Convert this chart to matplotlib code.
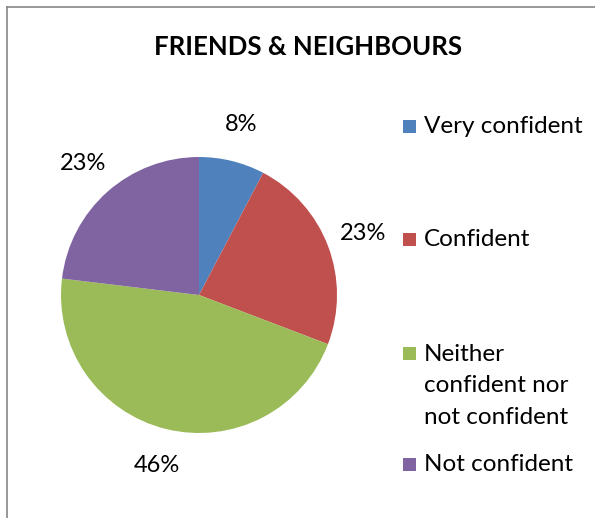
import matplotlib
matplotlib.use('Agg')
import matplotlib.pyplot as plt
from matplotlib.patches import Rectangle
from matplotlib.lines import Line2D

#survey answers for friends & neighbours (share of respondents, %)
labels = ['Very confident', 'Confident', 'Neither\nconfident nor\nnot confident', 'Not confident']
values = [7.7, 23.1, 46.1, 23.1]
colors = ['#4F81BD', '#C0504D', '#9BBB59', '#8064A2']

plt.rcParams['font.family'] = ['Lato', 'DejaVu Sans']

W, H = 595, 518
fig = plt.figure(figsize=(W/100, H/100), dpi=100)

#pie centre ~ (199, 295) px, radius ~138 px
cx, cy, r = 199, 295, 138
ax = fig.add_axes([(cx-r)/W, (H-cy-r)/H, 2*r/W, 2*r/H])
wedges, texts, autotexts = ax.pie(values, colors=colors, startangle=90, counterclock=False,
	autopct='%.0f%%', pctdistance=1.27, radius=1,
	wedgeprops={'linewidth': 0}, textprops={'fontsize': 17, 'color': 'black'})
ax.set_xlim(-1, 1)
ax.set_ylim(-1, 1)
ax.axis('off')

fig.text(308/W, 1-47/H, 'FRIENDS & NEIGHBOURS', ha='center', va='center', fontsize=18.5, fontweight='bold')

#legend drawn by hand so the uneven excel spacing can be kept
legend_y = [126, 239, 353, 464]
pitch = 32
for lab, col, y in zip(labels, colors, legend_y):
	fig.patches.append(Rectangle((403/W, 1-(y+6.5)/H), 13/W, 13/H, transform=fig.transFigure,
		facecolor=col, edgecolor='none'))
	nl = lab.count('\n')
	#multi-line text sits on its last baseline
	fig.text(424/W, 1-(y+7+nl*pitch)/H, lab, ha='left', va='baseline', fontsize=17.5, linespacing=1.62)

#chart area border (cut off on right and bottom)
fig.lines.append(Line2D([7/W, 7/W], [1-7/H, 0], transform=fig.transFigure, color='#868686', linewidth=1.2))
fig.lines.append(Line2D([7/W, 1], [1-7/H, 1-7/H], transform=fig.transFigure, color='#868686', linewidth=1.2))

fig.savefig('out.png', dpi=100, facecolor='white')
